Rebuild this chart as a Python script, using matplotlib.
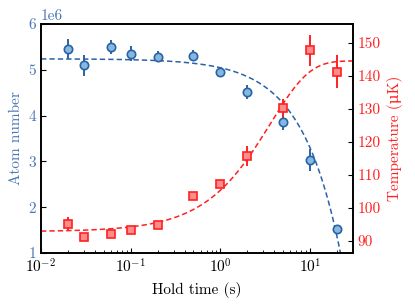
import numpy as np
import matplotlib
matplotlib.use("Agg")
import matplotlib.pyplot as plt

plt.rcParams['font.family'] = ['cmr10', 'DejaVu Serif']
plt.rcParams['mathtext.fontset'] = 'cm'
plt.rcParams['font.size'] = 11
plt.rcParams['axes.unicode_minus'] = False

# hold times (s)
t = [0.02, 0.03, 0.06, 0.1, 0.2, 0.5, 1, 2, 5, 10, 20]
# atom number
N = [5.45e6, 5.10e6, 5.50e6, 5.35e6, 5.29e6, 5.31e6, 4.96e6, 4.52e6, 3.87e6, 3.03e6, 1.52e6]
N_err = [0.22e6, 0.23e6, 0.16e6, 0.16e6, 0.13e6, 0.12e6, 0.10e6, 0.15e6, 0.18e6, 0.25e6, 0.10e6]
# temperature (uK)
T = [95.1, 91.1, 92.2, 93.2, 94.9, 103.6, 107.1, 115.8, 130.2, 147.9, 141.3]
T_err = [2.2, 1.2, 1.0, 1.2, 1.0, 1.0, 1.2, 3.0, 2.7, 4.7, 5.0]

# fit parameters
N0, loss_rate = 5.24e6, 0.195e6
T0, dT, tau = 92.8, 51.8, 3.6

blue = '#2a62a6'
blue_face = '#86b7df'
blue_text = '#4a78b5'
red = '#ff2020'
red_face = '#ff8c8c'

fig = plt.figure(figsize=(4.15, 3.05), dpi=100)
ax = fig.add_axes([0.0988, 0.1705, 0.7518, 0.7508])
ax2 = ax.twinx()

tt = np.logspace(-2, np.log10(30), 400)

ax.plot(tt, N0 - loss_rate * tt, '--', color=blue, lw=1.1, dashes=(3.5, 2))
ax.errorbar(t, N, yerr=N_err, fmt='o', color=blue, mfc=blue_face, mec=blue,
            ms=6, mew=1.2, elinewidth=1.4, capsize=0)

ax2.plot(tt, T0 + dT * (1 - np.exp(-tt / tau)), '--', color=red, lw=1.1, dashes=(3.5, 2))
ax2.errorbar(t, T, yerr=T_err, fmt='s', color=red, mfc=red_face, mec=red,
             ms=5.5, mew=1.2, elinewidth=1.4, capsize=0)

ax.set_xscale('log')
ax.set_xlim(0.01, 30)
ax.set_ylim(1e6, 6e6)
ax2.set_ylim(86.3, 155.8)
ax2.set_yticks([90, 100, 110, 120, 130, 140, 150])

ax.set_xlabel('Hold time (s)')
ax.set_ylabel('Atom number', color=blue_text)
ax2.set_ylabel('Temperature (\u03bcK)', color=red)

ax.tick_params(axis='x', which='both', direction='in', top=False)
ax.tick_params(axis='y', direction='in', labelcolor=blue_text, color='black')
ax2.tick_params(axis='y', direction='in', labelcolor=red, color='black')
ax.yaxis.get_offset_text().set_color(blue_text)

for a in (ax, ax2):
    for s in a.spines.values():
        s.set_linewidth(1.2)

fig.savefig('out.png', dpi=100)
